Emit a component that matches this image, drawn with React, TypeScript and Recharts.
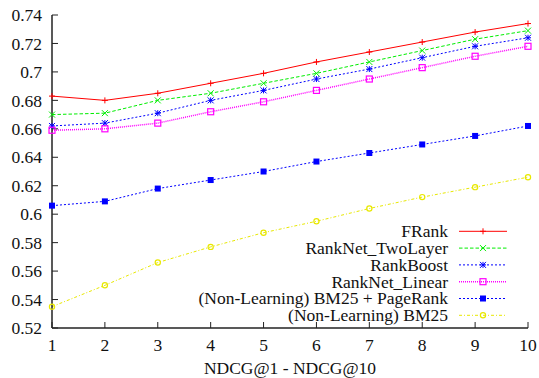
import { LineChart, Line, XAxis, YAxis, Legend } from 'recharts';

const steps = [1, 2, 3, 4, 5, 6, 7, 8, 9, 10];
const fRank = [0.683, 0.68, 0.685, 0.692, 0.699, 0.707, 0.714, 0.721, 0.728, 0.734];
const rankNetTwoLayer = [0.67, 0.671, 0.68, 0.685, 0.692, 0.699, 0.707, 0.715, 0.723, 0.729];
const rankBoost = [0.662, 0.664, 0.671, 0.68, 0.687, 0.695, 0.702, 0.71, 0.718, 0.724];
const rankNetLinear = [0.659, 0.66, 0.664, 0.672, 0.679, 0.687, 0.695, 0.703, 0.711, 0.718];
const bm25PageRank = [0.606, 0.609, 0.618, 0.624, 0.63, 0.637, 0.643, 0.649, 0.655, 0.662];
const bm25 = [0.535, 0.55, 0.566, 0.577, 0.587, 0.595, 0.604, 0.612, 0.619, 0.626];
const yTicks = [0.52, 0.54, 0.56, 0.58, 0.6, 0.62, 0.64, 0.66, 0.68, 0.7, 0.72, 0.74];

const data = steps.map((k, i) => ({
  k,
  fRank: fRank[i],
  twoLayer: rankNetTwoLayer[i],
  rankBoost: rankBoost[i],
  linear: rankNetLinear[i],
  bm25pr: bm25PageRank[i],
  bm25: bm25[i],
}));

type Shape = 'plus' | 'cross' | 'star' | 'square' | 'fsquare' | 'circle';

const series: { key: string; name: string; color: string; dash?: string; width: number; shape: Shape }[] = [
  { key: 'fRank', name: 'FRank', color: '#ff0000', width: 1, shape: 'plus' },
  { key: 'twoLayer', name: 'RankNet_TwoLayer', color: '#00ee00', dash: '3.5 2', width: 1, shape: 'cross' },
  { key: 'rankBoost', name: 'RankBoost', color: '#0000ff', dash: '2 2', width: 1, shape: 'star' },
  { key: 'linear', name: 'RankNet_Linear', color: '#ff00ff', dash: '1 1', width: 1.5, shape: 'square' },
  { key: 'bm25pr', name: '(Non-Learning) BM25 + PageRank', color: '#0000ff', dash: '2 2', width: 1, shape: 'fsquare' },
  { key: 'bm25', name: '(Non-Learning) BM25', color: '#e8e800', dash: '3 2 1 2', width: 1, shape: 'circle' },
];

const FONT = 'Liberation Serif, DejaVu Serif, serif';
const BORDER = '#222';
const textStyle = { fontFamily: FONT, fontSize: 17.5 };

function Marker({ cx, cy, shape, color }: { cx: number; cy: number; shape: Shape; color: string }) {
  const r = 3;
  const plus = (
    <>
      <line x1={cx - r} y1={cy} x2={cx + r} y2={cy} stroke={color} />
      <line x1={cx} y1={cy - r} x2={cx} y2={cy + r} stroke={color} />
    </>
  );
  const cross = (
    <>
      <line x1={cx - r} y1={cy - r} x2={cx + r} y2={cy + r} stroke={color} />
      <line x1={cx - r} y1={cy + r} x2={cx + r} y2={cy - r} stroke={color} />
    </>
  );
  if (shape === 'plus') return <g>{plus}</g>;
  if (shape === 'cross') return <g>{cross}</g>;
  if (shape === 'star') return <g>{plus}{cross}</g>;
  if (shape === 'square')
    return <rect x={cx - r} y={cy - r} width={2 * r} height={2 * r} fill="none" stroke={color} strokeWidth={1.2} />;
  if (shape === 'fsquare') return <rect x={cx - r} y={cy - r} width={2 * r} height={2 * r} fill={color} />;
  return <circle cx={cx} cy={cy} r={2.6} fill="none" stroke={color} strokeWidth={1.2} />;
}

function LegendBox() {
  return (
    <svg width={539} height={378} style={{ position: 'absolute', left: 0, top: 0, pointerEvents: 'none' }}>
      {series.map((s, i) => {
        const y = 231.3 + i * 16.8;
        return (
          <g key={s.key}>
            <text x={448} y={y + 5.8} textAnchor="end" style={textStyle} fill="#111">
              {s.name}
            </text>
            <line x1={459} y1={y} x2={507} y2={y} stroke={s.color} strokeWidth={s.width} strokeDasharray={s.dash} />
            <Marker cx={483} cy={y} shape={s.shape} color={s.color} />
          </g>
        );
      })}
    </svg>
  );
}

export default function App() {
  return (
    <div style={{ position: 'absolute', left: 0, top: 0, fontFamily: FONT }}>
      <LineChart width={539} height={378} data={data} margin={{ top: 15, right: 11, bottom: 0, left: 0 }}>
        <XAxis
          dataKey="k"
          type="number"
          domain={[1, 10]}
          ticks={steps}
          height={50}
          tickSize={-6}
          tickMargin={17}
          axisLine={{ stroke: BORDER, strokeWidth: 1.5 }}
          tickLine={{ stroke: BORDER }}
          tick={{ fill: '#111', style: textStyle }}
          label={{ value: 'NDCG@1 - NDCG@10', position: 'insideBottom', offset: 4, fill: '#111', style: textStyle }}
        />
        <XAxis
          xAxisId="top"
          dataKey="k"
          type="number"
          domain={[1, 10]}
          ticks={steps}
          orientation="top"
          height={0}
          tickSize={-6}
          tick={false}
          axisLine={{ stroke: BORDER, strokeWidth: 1.5 }}
          tickLine={{ stroke: BORDER }}
        />
        <YAxis
          yAxisId="left"
          type="number"
          domain={[0.52, 0.74]}
          ticks={yTicks}
          width={52}
          tickSize={-6}
          tickMargin={16}
          tickFormatter={(v: number) => String(Number(v.toFixed(2)))}
          axisLine={{ stroke: BORDER, strokeWidth: 1.5 }}
          tickLine={{ stroke: BORDER }}
          tick={{ fill: '#111', style: textStyle }}
        />
        <YAxis
          yAxisId="right"
          orientation="right"
          type="number"
          domain={[0.52, 0.74]}
          ticks={yTicks}
          width={0}
          tickSize={-6}
          tick={false}
          axisLine={{ stroke: BORDER, strokeWidth: 1.5 }}
          tickLine={{ stroke: BORDER }}
        />
        {series.map((s) => (
          <Line
            key={s.key}
            yAxisId="left"
            dataKey={s.key}
            name={s.name}
            type="linear"
            stroke={s.color}
            strokeWidth={s.width}
            strokeDasharray={s.dash}
            isAnimationActive={false}
            dot={(p: any) => <Marker key={`${s.key}-${p.index}`} cx={p.cx} cy={p.cy} shape={s.shape} color={s.color} />}
            activeDot={false}
          />
        ))}
        <Legend
          layout="vertical"
          align="center"
          verticalAlign="middle"
          wrapperStyle={{ left: 0, top: 0, width: 539, height: 378 }}
          content={() => <LegendBox />}
        />
      </LineChart>
    </div>
  );
}
